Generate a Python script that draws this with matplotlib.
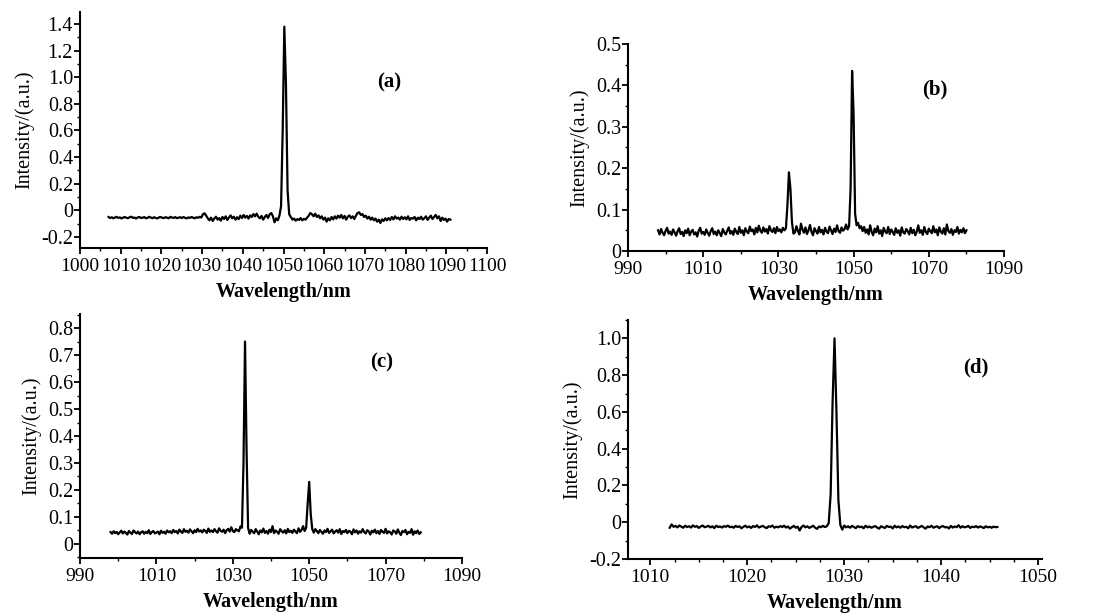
import numpy as np
import matplotlib
matplotlib.use("Agg")
import matplotlib.pyplot as plt
from matplotlib.ticker import MultipleLocator, FuncFormatter

plt.rcParams['font.family'] = ['Liberation Serif', 'DejaVu Serif']

# ---------------- data (intensities in thousandths of a.u.) ----------------
# (a) 1007 .. 1091 nm, step 0.4 nm
a_start, a_step = 1007.0, 0.4
a_base1 = [-50,-58,-52,-60,-54,-49,-57,-53,-61,-55,
           -50,-56,-59,-52,-48,-57,-54,-62,-53,-50,
           -58,-55,-51,-60,-56,-49,-54,-59,-52,-57,
           -61,-53,-50,-56,-58,-52,-55,-60,-49,-54,
           -57,-51,-59,-55,-52,-58,-50,-56,-61,-53,
           -57,-50,-55,-60,-52,-56,-49,-54]
a_base2 = [-30,-22,-40,-60,-75,-55,-80,-62,-48,-70,
           -58,-78,-50,-65,-45,-72,-55,-38,-60,-48,
           -70,-52,-66,-40,-58,-35,-55,-42,-62,-38,
           -50,-28,-45,-25,-48,-60,-42,-70,-50,-35,
           -58,-30,-20,-45,-90,-60,-75,-40]
a_peak = [30, 600, 1380, 950, 150, -30]
a_base3 = [-50,-70,-62,-78,-66,-72,-58,-75,-64,-70,
           -55,-40,-20,-30,-45,-25,-50,-38,-60,-45,
           -70,-55,-85,-60,-75,-50,-68,-45,-62,-40,
           -55,-35,-60,-42,-70,-48,-38,-58,-45,-65,
           -40,-20,-15,-35,-28,-50,-40,-62,-48,-70,
           -55,-75,-62,-85,-70,-95,-68,-80,-60,-75,
           -58,-72,-50,-68,-45,-62,-55,-70,-48,-65,
           -52,-68,-45,-72,-58,-62,-50,-75,-55,-66,
           -48,-70,-60,-45,-72,-55,-40,-65,-50,-35,
           -60,-45,-80,-55,-72,-62,-85,-65,-70]

# (b) 998 .. 1080 nm, step 0.4 nm
b_start, b_step = 998.0, 0.4
b_base1 = [50,40,53,44,38,49,56,42,47,39,
           52,45,37,48,55,41,46,36,50,43,
           54,38,47,51,40,45,35,49,56,42,
           46,39,52,44,37,48,55,41,47,38,
           50,43,36,53,45,40,49,57,42,48,
           39,54,46,41,58,44,50,38,55,47,
           43,59,48,52,40,56,45,61,49,44,
           57,47,53,42,60,50,46,55,43,58,
           48,52,45,56,50]
b_peak1 = [55, 110, 190, 150, 70, 42]
b_base2 = [45,60,48,40,66,52,44,57,41,50,
           63,46,38,55,48,42,58,45,51,40,
           56,47,43,59,50,41,54,46,62,48,
           44,57,49,53,64,52]
b_peak2 = [60, 150, 435, 330, 90, 62]
b_base3 = [68,55,60,48,58,44,52,40,62,46,
           38,54,45,60,42,50,36,56,47,43,
           58,41,52,46,39,55,44,50,37,57,
           45,42,53,48,40,56,43,51,38,47,
           62,44,50,39,58,46,41,54,48,43,
           60,45,52,38,57,47,42,55,40,64,
           48,44,53,39,50,46,58,42,51,45,
           55,43,50]

# (c) 998 .. 1079.2 nm, step 0.4 nm
c_start, c_step = 998.0, 0.4
c_base1 = [44,38,47,40,45,36,43,49,39,46,
           41,35,48,42,37,50,44,39,46,36,
           43,47,38,45,40,51,37,44,48,39,
           42,46,36,49,41,45,38,50,43,47,
           40,52,44,48,39,53,46,41,55,45,
           49,42,54,47,40,51,44,56,46,50,
           43,53,48,41,57,45,50,44,55,47,
           42,58,49,45,53,40,51,56,46,62,
           48,44,55,50,47,65]
c_peak1 = [60, 300, 750, 350, 60]
c_base2 = [38,52,45,40,55,46,36,50,43,57,
           41,48,38,53,44,66,40,50,45,38,
           55,47,42,51,39,56,44,49,41,53,
           46,40,58,45,52,66,48]
c_peak2 = [60, 150, 230, 110, 55]
c_base3 = [42,55,48,40,52,45,38,50,44,56,
           41,47,53,39,46,51,42,55,37,48,
           44,52,40,49,45,36,54,43,50,38,
           47,42,55,44,39,51,46,35,49,43,
           53,40,48,37,52,45,41,56,39,47,
           43,35,50,46,38,54,42,33,48,44,
           52,36,45,41,55,34,47,40,50,37,
           43]

# (d) 1012 .. 1045.8 nm, step 0.2 nm
d_start, d_step = 1012.0, 0.2
d_base1 = [-30,-12,-25,-20,-28,-18,-24,-30,-19,-26,
           -22,-29,-17,-25,-21,-31,-23,-18,-27,-24,
           -20,-28,-22,-32,-19,-26,-23,-29,-21,-25,
           -18,-27,-24,-30,-20,-26,-22,-33,-25,-19,
           -28,-23,-31,-21,-26,-17,-29,-24,-20,-27,
           -32,-22,-25,-18,-30,-24,-28,-21,-26,-19,
           -29,-23,-35,-27,-20,-30,-24,-45,-26,-18,
           -28,-22,-31,-25,-19,-30,-36,-23,-27,-20,
           -26,-22]
d_peak = [-5, 150, 650, 1000, 600, 120, -15]
d_base2 = [-40,-18,-28,-22,-30,-20,-26,-32,-21,-27,
           -24,-33,-19,-28,-23,-30,-25,-21,-29,-35,
           -22,-27,-31,-20,-26,-24,-34,-19,-28,-23,
           -30,-21,-27,-25,-33,-18,-29,-24,-22,-31,
           -26,-20,-28,-35,-23,-27,-19,-30,-25,-22,
           -32,-24,-21,-28,-26,-34,-20,-29,-23,-27,
           -16,-30,-22,-28,-25,-20,-31,-24,-27,-21,
           -29,-23,-26,-32,-22,-28,-25,-30,-24,-27,
           -26]

panel_labels = ["(a)", "(b)", "(c)", "(d)"]
x_label = "Wavelength/nm"
y_label = "Intensity/(a.u.)"


def spectrum(start, step, *parts):
    y = np.concatenate([np.asarray(p, float) for p in parts]) / 1000.0
    x = start + step * np.arange(len(y))
    return x, y


spectra = [
    spectrum(a_start, a_step, a_base1, a_base2, a_peak, a_base3),
    spectrum(b_start, b_step, b_base1, b_peak1, b_base2, b_peak2, b_base3),
    spectrum(c_start, c_step, c_base1, c_peak1, c_base2, c_peak2, c_base3),
    spectrum(d_start, d_step, d_base1, d_peak, d_base2),
]

W, H = 1093, 614
fig = plt.figure(figsize=(W / 100, H / 100), dpi=100)


def rect(l, r, t, b):
    return [l / W, 1 - b / H, (r - l) / W, (b - t) / H]


cfg = [
    dict(rect=rect(80, 487, 12, 248), xlim=(1000, 1100), ylim=(-0.283, 1.49),
         xmaj=10, xmin=5, ymaj=0.2, ymin=0.1, lab=(1076, 0.96)),
    dict(rect=rect(628, 1004, 44, 251), xlim=(990, 1090), ylim=(0, 0.5),
         xmaj=20, xmin=10, ymaj=0.1, ymin=0.05, lab=(1071.6, 0.39)),
    dict(rect=rect(80, 462, 314, 558), xlim=(990, 1090), ylim=(-0.052, 0.852),
         xmaj=20, xmin=10, ymaj=0.1, ymin=0.05, lab=(1069, 0.674)),
    dict(rect=rect(628, 1042, 320, 559), xlim=(1007.7, 1050.4), ylim=(-0.2, 1.1),
         xmaj=10, xmin=2.5, ymaj=0.2, ymin=0.1, lab=(1043.6, 0.84)),
]


def yfmt(v, pos):
    if abs(v) < 1e-9:
        return "0"
    return f"{v:.1f}"


for (x, y), c, lab in zip(spectra, cfg, panel_labels):
    ax = fig.add_axes(c["rect"])
    ax.plot(x, y, color="black", lw=1.6)
    ax.set_xlim(*c["xlim"])
    ax.set_ylim(*c["ylim"])
    for s in ("top", "right"):
        ax.spines[s].set_visible(False)
    for s in ("left", "bottom"):
        ax.spines[s].set_linewidth(1.5)
    ax.xaxis.set_major_locator(MultipleLocator(c["xmaj"]))
    ax.xaxis.set_minor_locator(MultipleLocator(c["xmin"]))
    ax.yaxis.set_major_locator(MultipleLocator(c["ymaj"]))
    ax.yaxis.set_minor_locator(MultipleLocator(c["ymin"]))
    ax.xaxis.set_major_formatter(FuncFormatter(lambda v, p: f"{v:.0f}"))
    ax.yaxis.set_major_formatter(FuncFormatter(yfmt))
    if c["xmaj"] == 20:
        ax.set_xticks(np.arange(990, 1091, 20))
    ax.tick_params(which="major", direction="out", length=4, width=1.3)
    ax.tick_params(axis="x", which="major", pad=3.5, labelsize=14)
    ax.tick_params(axis="y", which="major", pad=1, labelsize=14.5)
    ax.tick_params(which="minor", direction="out", length=2.5, width=1.0)
    ax.set_xlabel(x_label, fontsize=14.5, fontweight="bold", labelpad=5)
    ax.set_ylabel(y_label, fontsize=14.5, labelpad=5)
    ax.text(c["lab"][0], c["lab"][1], lab, fontsize=15, fontweight="bold",
            ha="center", va="center")

fig.savefig("out.png", dpi=100)
